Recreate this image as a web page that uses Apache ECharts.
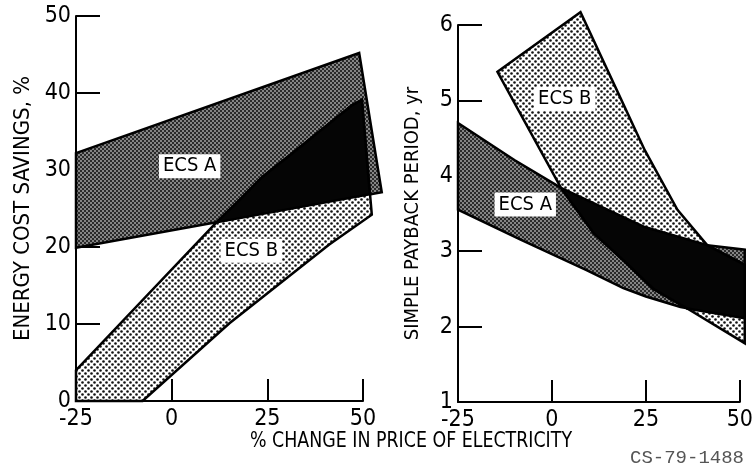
<!DOCTYPE html>
<html>
<head>
<meta charset="utf-8">
<script src="https://cdn.jsdelivr.net/npm/echarts@6/dist/echarts.min.js"></script>
<style>
  html, body { margin: 0; padding: 0; background: #fff; }
  #chart { width: 756px; height: 466px; }
</style>
</head>
<body>
<div id="chart"></div>
<script>
// x axis: % change in price of electricity
var xTicks = [-25, 0, 25, 50];

// left panel: energy cost savings, %  ([x, y] corners)
var savingsA = [[-25, 32.2], [49, 45.2], [54.9, 27.1], [-25, 19.9]];
var savingsB = [[-25, 0], [-25, 4], [11.7, 23.2], [16.9, 25.7], [23.7, 29.1], [32.6, 32.6],
                [47.1, 38.4], [49.7, 39.1], [52.3, 24.2], [41.1, 20.3], [15.1, 10.1], [-7.6, 0]];
var savingsAB = [[11.7, 23.2], [16.9, 25.7], [23.7, 29.1], [32.6, 32.6], [47.1, 38.4],
                 [49.7, 39.1], [51.8, 26.85]];
var savingsLabels = [[4.7, 30.5, 'ECS A'], [20.8, 19.5, 'ECS B']];

// right panel: simple payback period, yr
var paybackA = [[-25, 4.7], [-10, 4.21], [2.4, 3.84], [24.7, 3.32], [41.3, 3.08], [51.3, 3.02],
                [51.3, 2.11], [34.2, 2.26], [25, 2.4], [19, 2.51], [9.2, 2.75], [-8.2, 3.15], [-25, 3.55]];
var paybackB = [[-14.5, 5.38], [7.6, 6.17], [17.6, 5.1], [24.7, 4.34], [33.4, 3.55], [41.3, 3.08],
                [51.3, 2.82], [51.3, 1.78], [36, 2.24], [27, 2.5], [19, 2.88], [11.1, 3.24], [2.4, 3.84]];
var paybackAB = [[2.4, 3.84], [24.7, 3.32], [41.3, 3.08], [51.3, 2.82], [51.3, 2.11], [36, 2.24],
                 [27, 2.5], [19, 2.88], [11.1, 3.24]];
var paybackLabels = [[-7.1, 3.62, 'ECS A'], [3.4, 5.02, 'ECS B']];

var narrow = "'DejaVu Sans Condensed', 'DejaVu Sans', sans-serif";

// halftone-ish fills
function makeTile(size, draw) {
    var c = document.createElement('canvas');
    c.width = size; c.height = size;
    draw(c.getContext('2d'));
    return { image: c, repeat: 'repeat' };
}
var darkFill = makeTile(4, function(ctx) {
    ctx.fillStyle = '#2a2a2a';
    ctx.fillRect(0, 0, 4, 4);
    ctx.fillStyle = '#858585';
    ctx.fillRect(0, 0, 2, 2);
    ctx.fillRect(2, 2, 2, 2);
});
var dotFill = makeTile(6, function(ctx) {
    ctx.fillStyle = '#fff';
    ctx.fillRect(0, 0, 6, 6);
    ctx.fillStyle = '#111';
    ctx.beginPath(); ctx.arc(1.5, 1.5, 1.3, 0, Math.PI * 2); ctx.fill();
    ctx.beginPath(); ctx.arc(4.5, 4.5, 1.3, 0, Math.PI * 2); ctx.fill();
});

function bandSeries(idx, pts, fill) {
    return {
        type: 'custom',
        xAxisIndex: idx, yAxisIndex: idx,
        data: pts,
        silent: true,
        renderItem: function(params, api) {
            if (params.dataIndex !== 0) return;
            var poly = pts.map(function(p) { return api.coord(p); });
            return {
                type: 'polygon',
                shape: { points: poly },
                style: { fill: fill, stroke: '#000', lineWidth: 2.5, lineJoin: 'miter' }
            };
        }
    };
}

function labelSeries(idx, labels) {
    return {
        type: 'custom',
        xAxisIndex: idx, yAxisIndex: idx,
        silent: true,
        data: labels.map(function(l) { return [l[0], l[1]]; }),
        renderItem: function(params, api) {
            var p = api.coord([api.value(0), api.value(1)]);
            return {
                type: 'text',
                x: p[0], y: p[1],
                style: {
                    text: labels[params.dataIndex][2],
                    fill: '#000',
                    font: '20px ' + narrow,
                    align: 'center',
                    verticalAlign: 'middle',
                    backgroundColor: '#fff',
                    padding: [3, 4, 1, 4]
                }
            };
        }
    };
}

function xAxisOf(idx) {
    return {
        gridIndex: idx, type: 'value', min: -25, max: 50, interval: 25,
        splitLine: { show: false },
        axisLine: { onZero: false, lineStyle: { color: '#000', width: 2 } },
        axisTick: { inside: true, length: 22, lineStyle: { color: '#000', width: 2 } },
        axisLabel: { color: '#000', fontFamily: narrow, fontSize: 23, margin: 7 }
    };
}

function yAxisOf(idx, min, max, interval, name, gap, nameSize) {
    return {
        gridIndex: idx, type: 'value', min: min, max: max, interval: interval,
        name: name, nameLocation: 'middle', nameGap: gap, nameRotate: 90,
        nameTextStyle: { color: '#000', fontFamily: narrow, fontSize: nameSize },
        splitLine: { show: false },
        axisLine: { show: true, onZero: false, lineStyle: { color: '#000', width: 2 } },
        axisTick: { show: true, inside: true, length: 24, lineStyle: { color: '#000', width: 2 } },
        axisLabel: { color: '#000', fontFamily: narrow, fontSize: 23, margin: 5 }
    };
}

var chart = echarts.init(document.getElementById('chart'));
chart.setOption({
    animation: false,
    backgroundColor: '#fff',
    grid: [
        { left: 76, top: 16, width: 287, height: 385 },
        { left: 458, top: 25, width: 285, height: 377 }
    ],
    xAxis: [xAxisOf(0), xAxisOf(1)],
    yAxis: [
        yAxisOf(0, 0, 50, 10, 'ENERGY COST SAVINGS, %', 42, 22),
        yAxisOf(1, 1, 6, 1, 'SIMPLE PAYBACK PERIOD, yr', 35, 20)
    ],
    graphic: [
        {
            type: 'text', x: 250, y: 430, scaleX: 0.88,
            style: { text: '% CHANGE IN PRICE OF ELECTRICITY', fill: '#000', font: '22px ' + narrow }
        },
        {
            type: 'text', x: 630, y: 448,
            style: { text: 'CS-79-1488', fill: '#555', font: "19px 'Liberation Mono', 'DejaVu Sans Mono', monospace" }
        }
    ],
    series: [
        bandSeries(0, savingsA, darkFill),
        bandSeries(0, savingsB, dotFill),
        bandSeries(0, savingsAB, '#050505'),
        labelSeries(0, savingsLabels),
        bandSeries(1, paybackA, darkFill),
        bandSeries(1, paybackB, dotFill),
        bandSeries(1, paybackAB, '#050505'),
        labelSeries(1, paybackLabels)
    ]
});
</script>
</body>
</html>
